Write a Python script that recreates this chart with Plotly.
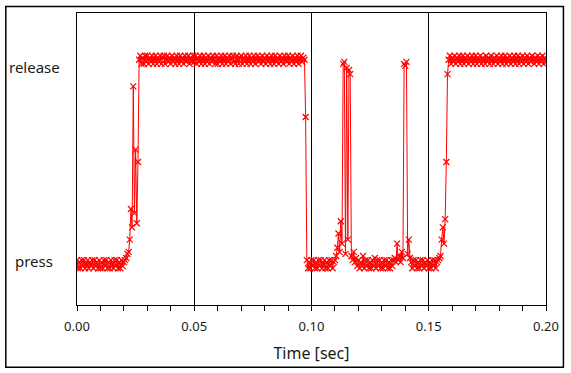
import numpy as np
import plotly.graph_objects as go

# sampling grid of the recorded signal (seconds)
sample_step = 0.0005
n_samples = 401
time_s = [round(i * sample_step, 4) for i in range(n_samples)]

# button state: 0 = press, 100 = release
state_pct = [
    2, -2, 1, -2, 2, -1, 2, -2, 0, 2, -2, 1, -1, 2, -2, 2, -1, 1, -2, 2,
    -2, 1, -2, 2, -1, 2, -2, 1, -2, 2, 0, -2, 2, -1, 2, -2, 1, -2, 2, -1,
    1, 2, 3, 5, 6, 12, 27, 18, 87, 25, 56, 20, 50, 100, 102, 98, 101, 98, 102, 99,
    102, 98, 101, 99, 102, 98, 100, 102, 98, 101, 99, 102, 98, 101, 102, 98, 100, 102, 99, 101,
    98, 102, 99, 101, 98, 102, 100, 98, 102, 99, 101, 98, 102, 99, 100, 102, 98, 101, 99, 102,
    99, 102, 98, 101, 99, 102, 98, 100, 102, 98, 101, 99, 102, 98, 101, 99, 102, 100, 98, 102,
    98, 101, 99, 102, 98, 100, 102, 98, 101, 99, 102, 98, 101, 102, 99, 98, 102, 100, 98, 101,
    102, 98, 101, 99, 102, 98, 100, 102, 98, 101, 99, 102, 98, 100, 102, 99, 101, 98, 102, 99,
    101, 98, 102, 99, 101, 98, 102, 100, 98, 102, 99, 101, 98, 102, 99, 101, 98, 102, 100, 99,
    102, 98, 101, 99, 102, 98, 101, 99, 102, 98, 100, 102, 99, 101, 100, 72, 2, -2, 1, -2,
    2, -1, 2, -2, 1, -2, 2, -1, 2, -2, 0, 2, -2, 1, -2, 2, -1, 2, -2, 1,
    2, 4, 8, 15, 6, 21, 10, 98, 99, 5, 96, 12, 95, 93, 4, 2, 6, 1, 3, -1,
    2, -2, 1, -1, 4, -2, 2, -1, 2, -2, 1, -2, 2, -1, 3, -2, 2, -1, 2, -2,
    1, -2, 2, -1, 2, -2, 1, -2, 2, -1, 2, 3, 1, 10, 2, 4, 1, 6, 3, 98,
    97, 99, 5, 12, 3, 1, -2, 2, -1, 2, -2, 1, -2, 2, -1, 2, -2, 1, -1, 2,
    -2, 1, -2, 2, -1, 2, -2, 1, 2, 3, 4, 12, 18, 10, 22, 50, 93, 100, 102, 98,
    101, 99, 102, 98, 101, 99, 102, 98, 100, 102, 98, 101, 99, 102, 98, 101, 99, 102, 98, 100,
    102, 98, 101, 99, 102, 98, 101, 100, 98, 102, 99, 101, 98, 102, 100, 98, 101, 99, 102, 98,
    101, 99, 102, 98, 100, 102, 98, 101, 99, 102, 98, 101, 99, 102, 98, 100, 102, 98, 101, 99,
    102, 98, 101, 99, 102, 98, 101, 99, 102, 100, 98, 101, 99, 102, 98, 101, 99, 102, 98, 101,
    99,
]
state = [v / 100.0 for v in state_pct]

state_labels = ["press", "release"]
state_levels = [0.0, 1.0]
x_tick_vals = [0.0, 0.05, 0.10, 0.15, 0.20]
x_tick_text = ["0.00", "0.05", "0.10", "0.15", "0.20"]

W, H = 571, 373
L, R, T, B = 77, 23, 12, 68
pw, ph = W - L - R, H - T - B
y_lo, y_hi = -0.2, 1.229

fig = go.Figure()
fig.add_trace(go.Scatter(
    x=time_s, y=state, mode="lines+markers",
    line=dict(color="#ff0000", width=1),
    marker=dict(symbol="x-thin", size=6, line=dict(color="#ff0000", width=1.2), color="#ff0000"),
    showlegend=False, hoverinfo="skip",
))

label_x = (34 - L) / pw
label_offsets = [0.015, -0.035]
for lab, lev, off in zip(state_labels, state_levels, label_offsets):
    fig.add_annotation(
        x=label_x, xref="paper", y=lev + off, yref="y",
        text=lab, showarrow=False, xanchor="center", yanchor="middle",
        font=dict(family="Noto Sans", size=15, color="#1a1a1a"),
    )

# outer frame around the whole picture
fig.add_shape(
    type="rect", xref="paper", yref="paper",
    x0=(5.5 - L) / pw, x1=(565.5 - L) / pw,
    y0=(H - B - 367.5) / ph, y1=(H - B - 5.5) / ph,
    line=dict(color="#000000", width=1.5), fillcolor="rgba(0,0,0,0)",
)

fig.update_layout(
    width=W, height=H,
    margin=dict(l=L, r=R, t=T, b=B),
    paper_bgcolor="white", plot_bgcolor="white",
    font=dict(family="Noto Sans", color="#1a1a1a"),
    xaxis=dict(
        range=[0, 0.2], tickvals=x_tick_vals, ticktext=x_tick_text,
        showgrid=True, gridcolor="#000000", gridwidth=1,
        zeroline=False, showline=True, linecolor="#000000", linewidth=1, mirror=True,
        ticks="outside", ticklen=5, tickcolor="#000000", ticklabelstandoff=4,
        minor=dict(dtick=0.01, ticks="outside", ticklen=5, tickcolor="#000000", showgrid=False),
        tickfont=dict(family="Noto Sans", size=13, color="#1a1a1a"),
        title=dict(text="Time [sec]", font=dict(family="Noto Sans", size=16, color="#1a1a1a"), standoff=14),
    ),
    yaxis=dict(
        range=[y_lo, y_hi], showticklabels=False, showgrid=False, zeroline=False,
        showline=True, linecolor="#000000", linewidth=1, mirror=True, ticks="",
    ),
)

fig.write_html("out.html", config={"displayModeBar": False},
               post_script="document.body.style.margin='0px';")
